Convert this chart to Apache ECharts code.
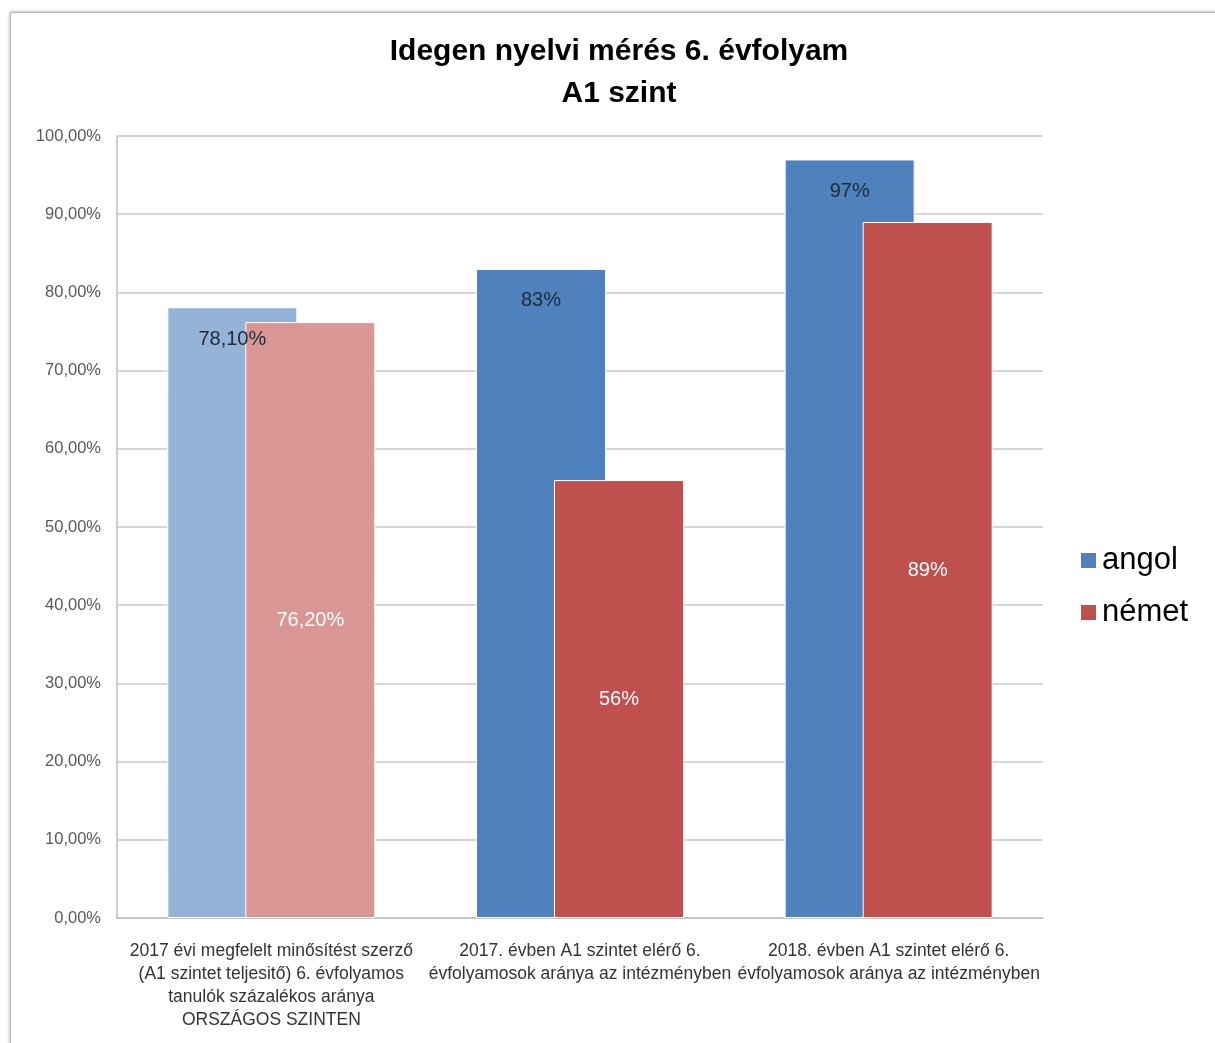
<!DOCTYPE html>
<html>
<head>
<meta charset="utf-8">
<script src="https://cdn.jsdelivr.net/npm/echarts@6/dist/echarts.min.js"></script>
<style>
html,body{margin:0;padding:0;background:#fff;}
#frame{position:absolute;left:10px;top:12px;width:1220px;height:1040px;border:1px solid #b8b8b8;box-shadow:0 0 3px #999;}
#chart{position:absolute;left:0;top:0;width:1215px;height:1043px;}
</style>
</head>
<body>
<div id="frame"></div>
<div id="chart"></div>
<script>
const categories = [
  "2017 évi megfelelt minősítést szerző\n(A1 szintet teljesitő) 6. évfolyamos\ntanulók százalékos aránya\nORSZÁGOS SZINTEN",
  "2017. évben A1 szintet elérő 6.\névfolyamosok aránya az intézményben",
  "2018. évben A1 szintet elérő 6.\névfolyamosok aránya az intézményben"
];
const angolValues = [78.1, 83, 97];
const nemetValues = [76.2, 56, 89];
const angolLabels = ["78,10%", "83%", "97%"];
const nemetLabels = ["76,20%", "56%", "89%"];
const angolColors = ["#95B3D7", "#4F81BD", "#4F81BD"];
const nemetColors = ["#D99694", "#C0504D", "#C0504D"];

const chart = echarts.init(document.getElementById('chart'));
const font = "Liberation Sans, Arial, sans-serif";
chart.setOption({
  animation: false,
  title: {
    text: "Idegen nyelvi mérés 6. évfolyam\nA1 szint",
    left: 614, top: 26, textAlign: 'center',
    textStyle: {fontFamily: font, fontSize: 30, fontWeight: 'bold', color: '#000', lineHeight: 42}
  },
  legend: {
    orient: 'vertical', left: 1074, top: 540, itemWidth: 17, itemHeight: 17, itemGap: 21,
    icon: 'rect',
    textStyle: {fontFamily: font, fontSize: 31, color: '#000'},
    data: ['angol', 'német']
  },
  grid: {left: 117, right: 172, top: 136, bottom: 125},
  xAxis: {
    type: 'category', data: categories,
    axisLine: {lineStyle: {color: '#bfbfbf', width: 1.5}},
    axisTick: {show: false},
    axisLabel: {fontFamily: font, fontSize: 17.5, color: '#333', lineHeight: 23, margin: 22, interval: 0}
  },
  yAxis: {
    type: 'value', min: 0, max: 100, interval: 10,
    axisLine: {show: true, lineStyle: {color: '#bfbfbf', width: 1.5}},
    axisTick: {show: false},
    splitLine: {lineStyle: {color: '#c8c8c8', width: 1.5}},
    axisLabel: {fontFamily: font, fontSize: 16.5, color: '#595959', margin: 16,
      formatter: v => v.toFixed(2).replace('.', ',') + '%'}
  },
  series: [
    {
      name: 'angol', type: 'bar', barWidth: 130, barGap: '-40%',
      itemStyle: {color: '#4F81BD', borderColor: '#ffffff', borderWidth: 1},
      data: angolValues.map((v, i) => ({value: v, itemStyle: {color: angolColors[i]}})),
      label: {show: true, position: 'insideTop', distance: 22,
        formatter: p => angolLabels[p.dataIndex],
        fontFamily: font, fontSize: 20, color: '#1f2a3a'}
    },
    {
      name: 'német', type: 'bar', barWidth: 130,
      itemStyle: {color: '#C0504D', borderColor: '#ffffff', borderWidth: 1},
      data: nemetValues.map((v, i) => ({value: v, itemStyle: {color: nemetColors[i]}})),
      label: {show: true, position: 'inside',
        formatter: p => nemetLabels[p.dataIndex],
        fontFamily: font, fontSize: 20, color: '#ffffff'}
    }
  ]
});
</script>
</body>
</html>
